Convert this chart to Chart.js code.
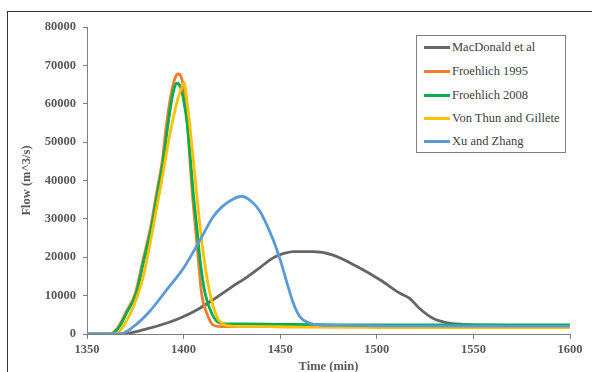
<!DOCTYPE html>
<html><head><meta charset="utf-8">
<script src="https://cdn.jsdelivr.net/npm/chart.js@4"></script>
<style>
html,body{margin:0;padding:0;background:#fff;overflow:hidden}
#wrap{position:relative;width:592px;height:372px;overflow:hidden}
#frame{position:absolute;left:7px;top:11px;width:700px;height:500px;border:1px solid #333;box-sizing:border-box}
#c{position:absolute;left:0;top:0}
#legend{position:absolute;left:416px;top:35px;width:150px;height:118px;border:1px solid #7f7f7f;box-sizing:border-box;background:#fff}
.item{position:absolute;left:7px;height:16px;display:flex;align-items:center;white-space:nowrap;font-family:"Liberation Serif",serif;font-size:12.5px;color:#404040}
.sw{display:inline-block;width:26px;height:3px;margin-right:2px}
</style></head>
<body>
<div id="wrap">
<div id="frame"></div>
<canvas id="c" width="592" height="372"></canvas>
<div id="legend"></div>
</div>
<script>
// ---- data ----
const seriesNames = ["MacDonald et al", "Froehlich 1995", "Froehlich 2008", "Von Thun and Gillete", "Xu and Zhang"];
const xTicks = [1350, 1400, 1450, 1500, 1550, 1600];
const yTicks = [0, 10000, 20000, 30000, 40000, 50000, 60000, 70000, 80000];

const macTime = [1350,1368,1380,1391,1398,1408,1415,1425,1433,1440,1444.7,1449,1452,1457,1467,1477,1490,1502,1512,1517,1522,1529,1536,1545,1560,1580,1600];
const macFlow = [0,0,1200,2800,4100,6600,8860,12300,14900,17500,19300,20500,21000,21450,21450,20600,17500,14000,10600,9300,6700,4100,2950,2500,2300,2250,2250];

const fr95Time = [1350,1362,1364,1367,1370,1375,1379,1383,1386,1389,1391,1393,1395.5,1397.3,1399,1400.3,1401.8,1403.1,1404.5,1407,1409.3,1412,1415.4,1419,1430,1450,1500,1550,1600];
const fr95Flow = [0,0,500,2500,5500,10600,19300,28000,36700,45300,54000,61000,66600,67750,66600,63000,56000,46500,36700,23000,10600,5400,2300,1900,2000,1900,1900,1900,1900];

const fr08Time = [1350,1362,1364.5,1367.5,1370.5,1375.5,1379.5,1383.5,1386.5,1389.5,1391.5,1393.5,1395,1396.4,1398.3,1400,1401.8,1403.3,1405,1406.8,1408.5,1411.1,1414.5,1418.8,1424,1430,1450,1480,1520,1560,1600];
const fr08Flow = [0,0,600,2500,5500,10600,19300,28000,36700,45300,53000,60000,63800,65400,64500,61000,55000,47000,36700,28000,19300,10600,5400,2800,2600,2600,2500,2400,2400,2400,2350];

const vtgTime = [1350,1364.5,1367,1370,1374,1379.1,1384.3,1388.7,1393,1397.3,1399.3,1400.5,1401.2,1403.3,1405.9,1408.5,1412,1415.4,1418.8,1424,1435,1460,1500,1550,1600];
const vtgFlow = [0,0,800,3000,7100,14900,28000,40100,52300,61800,64500,65500,63000,54000,41000,28000,14900,7100,3200,2100,2000,1800,1700,1650,1650];

const xuTime = [1350,1367,1374,1382.6,1391.2,1400,1408.5,1415.4,1420,1425.7,1430,1435,1439.5,1443,1446.4,1449.9,1453.4,1456.8,1460.2,1465.4,1470.6,1480,1500,1550,1600];
const xuFlow = [0,0,1900,6000,11500,17200,24500,30600,33200,35200,35900,34600,32000,28500,24500,19500,13500,8000,4500,2800,2350,2250,2100,2050,2050];

// ---- styles ----
const colors = ["#666666", "#ED7D31", "#00B050", "#FFC000", "#5B9BD5"];
const FONT = "'Liberation Serif','Times New Roman',serif";
const AX = "#7f7f7f";
const TXT = "#595959";

const times = [macTime, fr95Time, fr08Time, vtgTime, xuTime];
const flows = [macFlow, fr95Flow, fr08Flow, vtgFlow, xuFlow];

const datasets = seriesNames.map((name, i) => ({
  label: name,
  data: times[i].map((t, j) => ({x: t, y: flows[i][j]})),
  borderColor: colors[i],
  backgroundColor: colors[i],
  borderWidth: 2.8,
  pointRadius: 0,
  cubicInterpolationMode: 'monotone',
  fill: false,
  order: seriesNames.length - i
}));

new Chart(document.getElementById('c'), {
  type: 'line',
  data: {datasets},
  options: {
    responsive: false,
    animation: false,
    layout: {padding: {top: 27, right: 22, left: 0, bottom: 0}},
    plugins: {legend: {display: false}, tooltip: {enabled: false}},
    scales: {
      x: {
        type: 'linear', min: xTicks[0], max: xTicks[xTicks.length - 1],
        afterBuildTicks: s => { s.ticks = xTicks.map(v => ({value: v})); },
        afterFit: s => { s.height = 38; },
        ticks: {color: TXT, font: {family: FONT, size: 12.5, weight: 'bold'}, padding: 3, maxRotation: 0, autoSkip: false, callback: v => String(v)},
        grid: {display: true, drawOnChartArea: false, drawTicks: true, tickLength: 5, color: AX},
        border: {display: true, color: AX, width: 1},
        title: {display: true, text: 'Time (min)', color: TXT, font: {family: FONT, size: 12.5, weight: 'bold'}, padding: {top: 0, bottom: -2}}
      },
      y: {
        min: yTicks[0], max: yTicks[yTicks.length - 1],
        afterBuildTicks: s => { s.ticks = yTicks.map(v => ({value: v})); },
        afterFit: s => { s.width = 87; },
        ticks: {color: TXT, font: {family: FONT, size: 12.5, weight: 'bold'}, padding: 7, callback: v => String(v)},
        grid: {display: true, drawOnChartArea: false, drawTicks: true, tickLength: 4, color: AX},
        border: {display: true, color: AX, width: 1},
        title: {display: true, text: 'Flow (m^3/s)', color: TXT, font: {family: FONT, size: 12.5, weight: 'bold'}, padding: {top: 19, bottom: 0}}
      }
    }
  }
});

// legend
const lg = document.getElementById('legend');
const rowCenters = [11, 35.7, 59, 82.7, 105.7];
seriesNames.forEach((name, i) => {
  const d = document.createElement('div');
  d.className = 'item';
  d.style.top = (rowCenters[i] - 8) + 'px';
  const sw = document.createElement('span');
  sw.className = 'sw';
  sw.style.background = colors[i];
  const tx = document.createElement('span');
  tx.textContent = name;
  d.appendChild(sw); d.appendChild(tx);
  lg.appendChild(d);
});
</script>
</body></html>
